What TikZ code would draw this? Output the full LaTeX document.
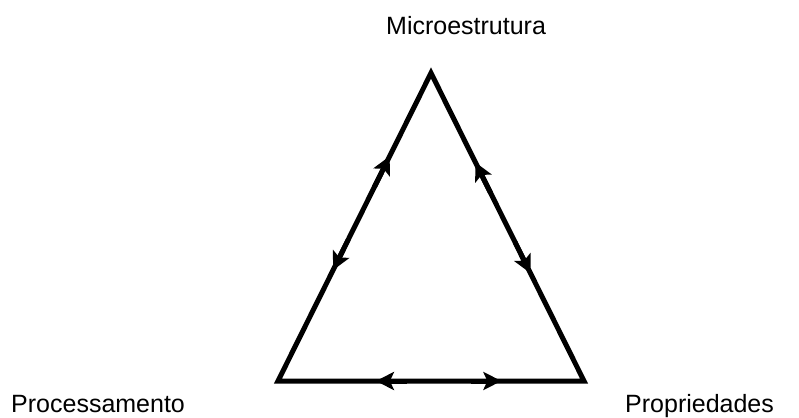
\documentclass[tikz,border=0pt]{standalone}
\usepackage{fontspec}
\setmainfont{Liberation Sans}
\usetikzlibrary{arrows.meta,calc}
\begin{document}
\begin{tikzpicture}[x=1pt,y=-1pt,
  edge/.style={line width=5pt,line join=miter},
  tip/.style={line width=5pt,-{Stealth[length=18pt,width=18pt,inset=4pt]}},
  lbl/.style={font=\fontsize{25}{30}\selectfont,anchor=base west,inner sep=0pt}]
\useasboundingbox (0,0) rectangle (799,417);
\coordinate (A) at (431,73);
\coordinate (B) at (278,381);
\coordinate (C) at (584,381);
\node[lbl] (micro) at (386,35) {Microestrutura};
\node[lbl] (proc) at (11,412) {Processamento};
\node[lbl] (prop) at (625,412) {Propriedades};
\draw[edge] (A) -- (B) -- (C) -- cycle;
% left edge
\draw[tip] ($(B)!0.63!(A)$) -- ($(B)!0.73!(A)$);
\draw[tip] ($(B)!0.46!(A)$) -- ($(B)!0.36!(A)$);
% right edge
\draw[tip] ($(C)!0.61!(A)$) -- ($(C)!0.71!(A)$);
\draw[tip] ($(C)!0.45!(A)$) -- ($(C)!0.35!(A)$);
% bottom edge
\draw[tip] ($(B)!0.42!(C)$) -- ($(B)!0.32!(C)$);
\draw[tip] ($(B)!0.63!(C)$) -- ($(B)!0.73!(C)$);
\end{tikzpicture}
\end{document}
